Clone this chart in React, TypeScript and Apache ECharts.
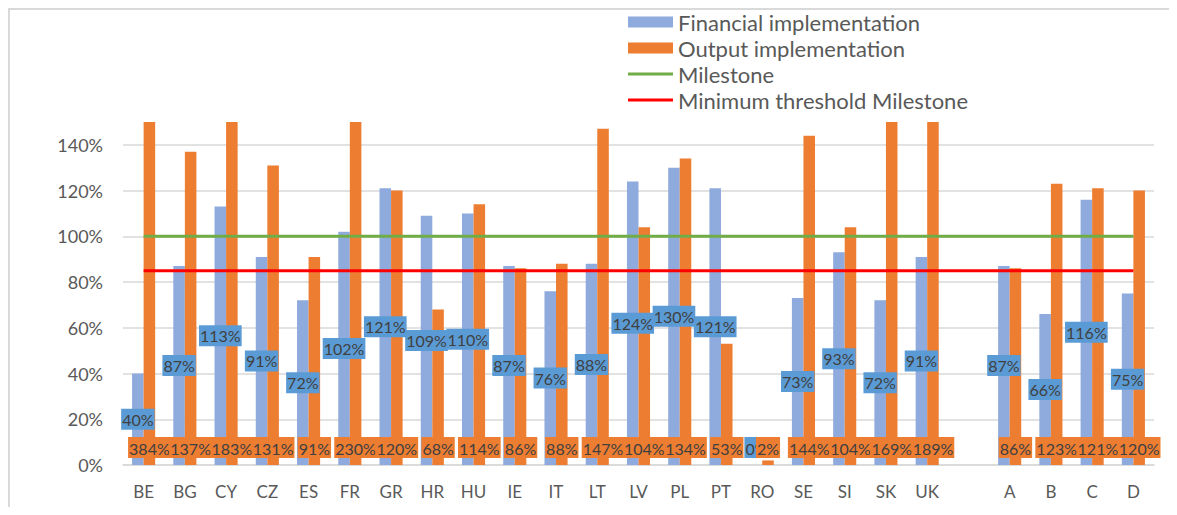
import React, { useEffect, useRef } from "react";
import * as echarts from "echarts";

const categories = ["BE", "BG", "CY", "CZ", "ES", "FR", "GR", "HR", "HU", "IE", "IT", "LT", "LV", "PL", "PT", "RO", "SE", "SI", "SK", "UK", "", "A", "B", "C", "D"];
const financial = [40, 87, 113, 91, 72, 102, 121, 109, 110, 87, 76, 88, 124, 130, 121, 0, 73, 93, 72, 91, null, 87, 66, 116, 75];
const output = [384, 137, 183, 131, 91, 230, 120, 68, 114, 86, 88, 147, 104, 134, 53, 2, 144, 104, 169, 189, null, 86, 123, 121, 120];
const milestone = [100, 100, 100, 100, 100, 100, 100, 100, 100, 100, 100, 100, 100, 100, 100, 100, 100, 100, 100, 100, 100, 100, 100, 100, 100];
const threshold = [85, 85, 85, 85, 85, 85, 85, 85, 85, 85, 85, 85, 85, 85, 85, 85, 85, 85, 85, 85, 85, 85, 85, 85, 85];
const yTicks = { min: 0, max: 150, interval: 20 };

const FONT = "Lato";
const LINE_ICON = "path://M0,0H45V3H0Z";

export default function App() {
  const ref = useRef<HTMLDivElement>(null);
  useEffect(() => {
    const chart = echarts.init(ref.current!, null, { renderer: "svg" });
    const labelBase = {
      show: true,
      fontFamily: FONT,
      fontSize: 16,
      color: "#404040",
      padding: [3, 1, 2, 1],
      formatter: (p: any) => (p.value == null ? "" : p.value + "%"),
    };
    chart.setOption({
      animation: false,
      textStyle: { fontFamily: FONT },
      grid: { left: 113, right: 23, top: 112, bottom: 42, containLabel: false },
      legend: {
        orient: "vertical",
        left: 618,
        top: 1,
        padding: 0,
        itemWidth: 45,
        itemHeight: 11,
        itemGap: 4,
        symbolKeepAspect: true,
        textStyle: { fontFamily: FONT, fontSize: 22, color: "#595959" },
        data: [
          { name: "Financial implementation", icon: "rect" },
          { name: "Output implementation", icon: "rect" },
          { name: "Milestone", icon: LINE_ICON },
          { name: "Minimum threshold Milestone", icon: LINE_ICON },
        ],
      },
      xAxis: {
        type: "category",
        data: categories,
        axisLine: { show: true, lineStyle: { color: "#d9d9d9", width: 1.5 } },
        axisTick: { show: false },
        axisLabel: { color: "#595959", fontSize: 17, fontFamily: FONT, margin: 18, interval: 0 },
      },
      yAxis: {
        type: "value",
        min: yTicks.min,
        max: yTicks.max,
        interval: yTicks.interval,
        axisLine: { show: false },
        axisTick: { show: false },
        axisLabel: {
          color: "#595959",
          fontSize: 18,
          fontFamily: FONT,
          margin: 20,
          showMaxLabel: false,
          formatter: (v: number) => (v === 150 ? "" : v + "%"),
        },
        splitLine: { show: true, showMaxLine: false, lineStyle: { color: "#d9d9d9", width: 1.5 } },
      },
      series: [
        {
          name: "Financial implementation",
          type: "bar",
          data: financial.map((v) =>
            v === 0
              ? { value: v, label: { position: "insideBottom", distance: 7 } }
              : v
          ),
          barGap: "0%",
          barCategoryGap: "44%",
          itemStyle: { color: "#8FAADC" },
          label: { ...labelBase, position: "inside", backgroundColor: "#5B9BD5" },
        },
        {
          name: "Output implementation",
          type: "bar",
          data: output,
          barGap: "0%",
          barCategoryGap: "44%",
          clip: true,
          itemStyle: { color: "#ED7D31" },
          label: { ...labelBase, position: "insideBottom", distance: 7, backgroundColor: "#ED7D31" },
        },
        {
          name: "Milestone",
          type: "line",
          data: milestone,
          symbol: "none",
          z: 5,
          lineStyle: { color: "#70AD47", width: 3 },
          itemStyle: { color: "#70AD47" },
        },
        {
          name: "Minimum threshold Milestone",
          type: "line",
          data: threshold,
          symbol: "none",
          z: 5,
          lineStyle: { color: "#FF0000", width: 3 },
          itemStyle: { color: "#FF0000" },
        },
      ],
    });
    return () => chart.dispose();
  }, []);
  return (
    <div style={{ width: 1167, height: 497, borderTop: "2px solid #d9d9d9", borderLeft: "2px solid #d9d9d9", background: "#fff" }}>
      <div ref={ref} style={{ width: 1167, height: 497 }} />
    </div>
  );
}
